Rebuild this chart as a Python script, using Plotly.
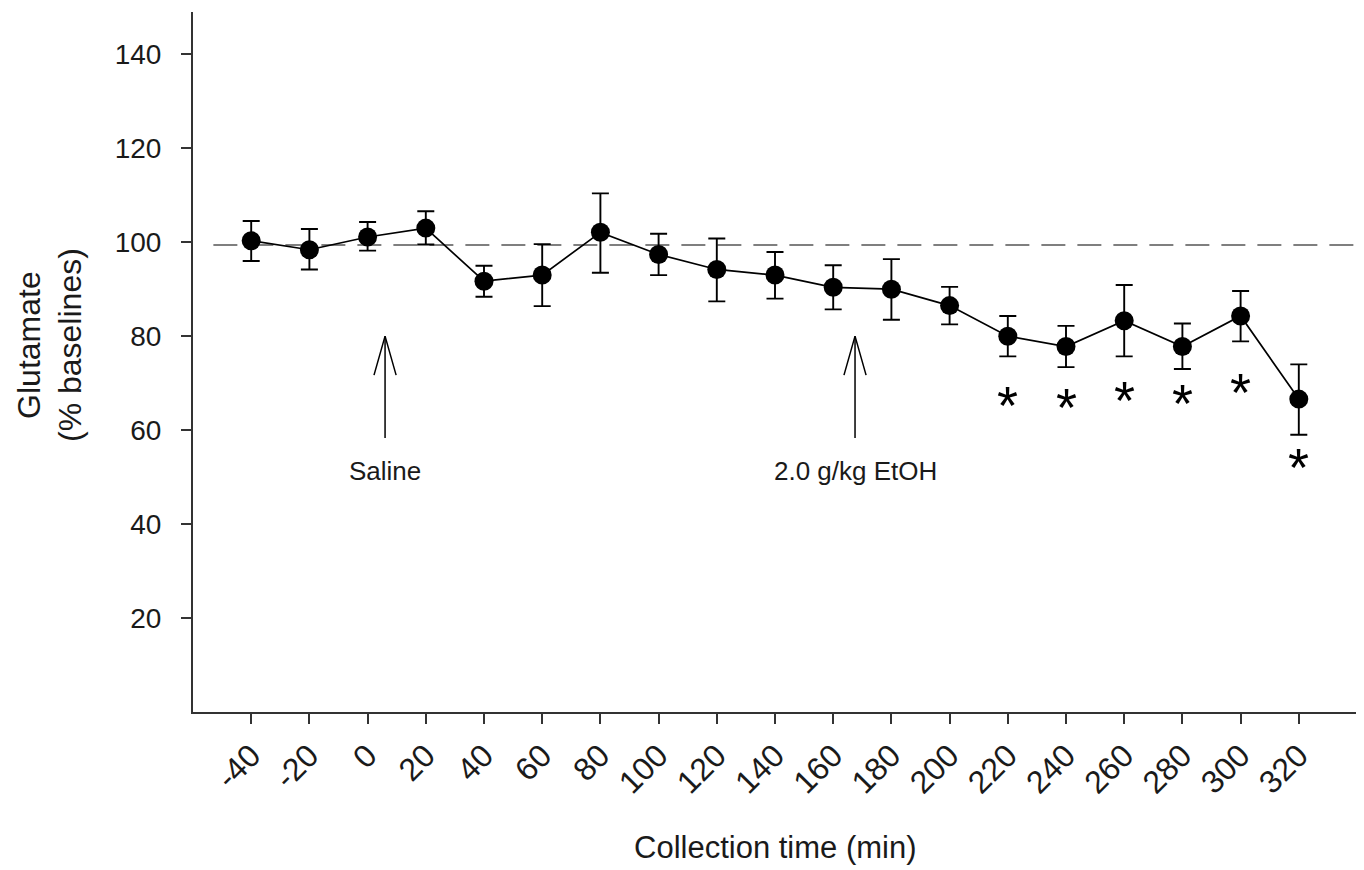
import plotly.graph_objects as go

# ---- data ----
times = [-40, -20, 0, 20, 40, 60, 80, 100, 120, 140, 160, 180, 200, 220, 240, 260, 280, 300, 320]
means = [100.3, 98.4, 101.1, 103.0, 91.7, 93.0, 102.1, 97.4, 94.2, 93.0, 90.4, 90.0, 86.5, 80.0, 77.8, 83.3, 77.8, 84.3, 66.6]
upper = [104.5, 102.8, 104.3, 106.6, 95.0, 99.6, 110.4, 101.8, 100.8, 97.9, 95.1, 96.4, 90.5, 84.3, 82.2, 90.9, 82.7, 89.6, 74.0]
lower = [96.0, 94.2, 98.2, 99.5, 88.4, 86.4, 93.5, 93.0, 87.4, 88.0, 85.7, 83.5, 82.5, 75.7, 73.4, 75.7, 73.0, 78.9, 59.0]

baseline = 99.4
baseline_x = [-53, 340]

star_x = [220, 240, 260, 280, 300, 320]
star_y = [66.8, 66.4, 67.9, 67.2, 69.6, 53.6]

arrow_x = [6, 167.5]
arrow_tip = 80.0
arrow_base = 58.3
arrow_labels = ["Saline", "2.0 g/kg EtOH"]
arrow_label_y = 51.4

x_ticks = list(range(-40, 321, 20))
y_ticks = [20, 40, 60, 80, 100, 120, 140]

FONT = "Liberation Sans, Arial, sans-serif"
TXT = "#1a1a1a"

fig = go.Figure()

# dashed baseline
fig.add_trace(go.Scatter(
    x=baseline_x, y=[baseline, baseline], mode="lines",
    line=dict(color="#555555", width=1.5, dash="24px,12px"),
    hoverinfo="skip", showlegend=False))

# arrows (shaft + open head)
head_dx, head_dy = 3.8, 8.3
for ax_ in arrow_x:
    fig.add_trace(go.Scatter(
        x=[ax_ - head_dx, ax_, ax_ + head_dx, None, ax_, ax_],
        y=[arrow_tip - head_dy, arrow_tip, arrow_tip - head_dy, None, arrow_tip, arrow_base],
        mode="lines", line=dict(color="black", width=1.5),
        hoverinfo="skip", showlegend=False))

# data
err_plus = [u - m for u, m in zip(upper, means)]
err_minus = [m - l for m, l in zip(means, lower)]
fig.add_trace(go.Scatter(
    x=times, y=means, mode="lines+markers",
    line=dict(color="black", width=1.7),
    marker=dict(color="black", size=19, symbol="circle"),
    error_y=dict(type="data", symmetric=False, array=err_plus, arrayminus=err_minus,
                 color="black", thickness=1.9, width=8.5),
    showlegend=False))

# asterisks (annotations; yshift compensates for the high-sitting glyph)
for sx, sy in zip(star_x, star_y):
    fig.add_annotation(x=sx, y=sy, text="*", showarrow=False, xref="x", yref="y",
                       xanchor="center", yanchor="middle", yshift=-7,
                       font=dict(family=FONT, size=54, color="black"))

# arrow labels
for ax_, lab in zip(arrow_x, arrow_labels):
    fig.add_annotation(x=ax_, y=arrow_label_y, text=lab, showarrow=False,
                       xref="x", yref="y", xanchor="center", yanchor="middle",
                       font=dict(family=FONT, size=26, color=TXT))

# axis titles as annotations
fig.add_annotation(x=-0.123, y=0.524, xref="paper", yref="paper",
                   text="Glutamate<br>(% baselines)", textangle=-90, showarrow=False,
                   xanchor="center", yanchor="middle",
                   font=dict(family=FONT, size=32, color=TXT))
fig.add_annotation(x=0.5, y=-0.194, xref="paper", yref="paper",
                   text="Collection time (min)", showarrow=False,
                   xanchor="center", yanchor="middle",
                   font=dict(family=FONT, size=31, color=TXT))

fig.update_xaxes(range=[-60, 340], tickvals=x_ticks, ticktext=[str(v) for v in x_ticks],
                 tickangle=-45, ticks="outside", ticklen=10, tickwidth=1.5, tickcolor="#333333",
                 showline=True, linecolor="#333333", linewidth=2, showgrid=False, zeroline=False,
                 tickfont=dict(family=FONT, size=32, color=TXT))
fig.update_yaxes(range=[0, 149], tickvals=y_ticks, ticks="outside", ticklen=10, tickwidth=1.5,
                 tickcolor="#333333", showline=True, linecolor="#333333", linewidth=2,
                 showgrid=False, zeroline=False, ticklabelstandoff=14,
                 tickfont=dict(family=FONT, size=28, color=TXT))

# page body has an 8px margin: size the figure so the plot area lands where the reference has it
fig.update_layout(width=1356, height=862, margin=dict(l=185, r=7, t=4, b=158),
                  plot_bgcolor="white", paper_bgcolor="white", showlegend=False)

fig.write_html("out.html")
